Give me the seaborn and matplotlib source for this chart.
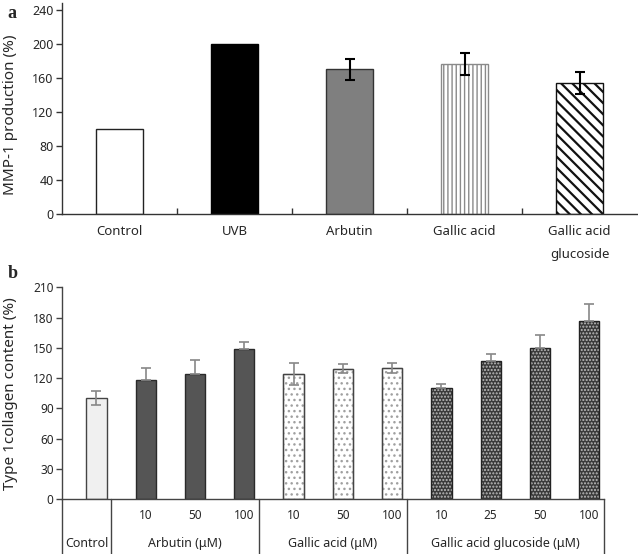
import matplotlib
matplotlib.use("Agg")
import matplotlib.pyplot as plt
from matplotlib.patches import Rectangle
import seaborn as sns
import pandas as pd

# ---- Panel a data ----
mmp_cats = ["Control", "UVB", "Arbutin", "Gallic acid", "Gallic acid\nglucoside"]
mmp_vals = [100, 200, 170, 176, 154]
mmp_err = [0, 0, 12, 13, 13]
mmp_yticks = [0, 40, 80, 120, 160, 200, 240]

# ---- Panel b data ----
col_ids = ["Control", "Arb10", "Arb50", "Arb100", "GA10", "GA50", "GA100",
           "GAG10", "GAG25", "GAG50", "GAG100"]
col_doses = ["", "10", "50", "100", "10", "50", "100", "10", "25", "50", "100"]
col_vals = [100, 118, 124, 149, 124, 129, 130, 110, 137, 150, 177]
col_err = [7, 12, 13.5, 7, 10.5, 4.5, 5.3, 4, 7.3, 13, 16.6]
group_labels = ["Control", "Arbutin (\u03bcM)", "Gallic acid (\u03bcM)",
                "Gallic acid glucoside (\u03bcM)"]
group_sizes = [1, 3, 3, 4]
col_yticks = [0, 30, 60, 90, 120, 150, 180, 210]

sns.set_style("white")
plt.rcParams["font.family"] = ["Noto Sans", "DejaVu Sans"]
plt.rcParams["hatch.linewidth"] = 1.0

fig = plt.figure(figsize=(6.38, 5.54), dpi=100)

# ================= Panel a =================
axa = fig.add_axes([62 / 638, 340 / 554, 575 / 638, 211 / 554])
dfa = pd.DataFrame({"cat": mmp_cats, "val": mmp_vals})
face_a = ["white", "black", "#7f7f7f", "white", "white"]
sns.barplot(data=dfa, x="cat", y="val", hue="cat", palette=face_a,
            legend=False, errorbar=None, width=0.41, ax=axa, saturation=1)
edge_a = ["#222222", "black", "#333333", "#8a8a8a", "#111111"]
hatch_a = [None, None, None, "||||", "\\\\\\"]
for p, ec, h in zip(axa.patches, edge_a, hatch_a):
    p.set_edgecolor(ec)
    p.set_linewidth(1.0)
    if h:
        p.set_hatch(h)
        try:
            p.set_hatch_linewidth(1.6 if h.startswith("\\") else 1.0)
        except AttributeError:
            pass
for i, (v, e) in enumerate(zip(mmp_vals, mmp_err)):
    if e > 0:
        axa.errorbar(i, v, yerr=e, color="black", lw=1.5, capsize=3.5,
                     capthick=1.5, zorder=5)
axa.set_xlim(-0.5, 4.5)
axa.set_ylim(0, 248)
axa.set_yticks(mmp_yticks)
axa.set_xlabel("")
axa.set_ylabel("MMP-1 production (%)", fontsize=11)
axa.yaxis.set_label_coords(-0.077, 0.47)
for s in ["top", "right"]:
    axa.spines[s].set_visible(False)
for s in ["left", "bottom"]:
    axa.spines[s].set_color("#333333")
    axa.spines[s].set_linewidth(1.0)
axa.tick_params(axis="y", direction="out", length=4, width=1, color="#333333",
                labelsize=9, pad=2, left=True)
axa.tick_params(axis="x", length=0, labelsize=9.5, pad=8)
axa.set_xticks(range(len(mmp_cats)))
axa.set_xticklabels(mmp_cats, linespacing=2.0, va="top")
axa.set_xticks([0.5, 1.5, 2.5, 3.5], minor=True)
axa.tick_params(axis="x", which="minor", direction="in", length=4, width=1,
                color="#333333", bottom=True)

# ================= Panel b =================
axb = fig.add_axes([62 / 638, 55 / 554, 542 / 638, 211.7 / 554])
dfb = pd.DataFrame({"id": col_ids, "val": col_vals})
face_b = ["#f0f0f0", "#555555", "#555555", "#555555", "white", "white", "white",
          "#3a3a3a", "#3a3a3a", "#3a3a3a", "#3a3a3a"]
sns.barplot(data=dfb, x="id", y="val", hue="id", palette=face_b,
            legend=False, errorbar=None, width=0.41, ax=axb, saturation=1)
dark = [False, True, True, True, False, False, False, True, True, True, True]
for i, p in enumerate(list(axb.patches)):
    if i == 0:
        p.set_edgecolor("#444444"); p.set_linewidth(1.0)
    elif 1 <= i <= 3:
        p.set_edgecolor("#2a2a2a"); p.set_linewidth(1.0)
    elif 4 <= i <= 6:
        p.set_edgecolor("#a0a0a0"); p.set_linewidth(1.0)
        p.set_hatch("...")
        axb.add_patch(Rectangle((p.get_x(), p.get_y()), p.get_width(), p.get_height(),
                                fill=False, edgecolor="#444444", lw=1.0, zorder=p.get_zorder() + 0.1))
    else:
        p.set_edgecolor("#bdbdbd"); p.set_linewidth(0)
        p.set_hatch(".....")
        axb.add_patch(Rectangle((p.get_x(), p.get_y()), p.get_width(), p.get_height(),
                                fill=False, edgecolor="#222222", lw=1.0, zorder=p.get_zorder() + 0.1))
for i, (v, e) in enumerate(zip(col_vals, col_err)):
    low = 0 if dark[i] else e
    axb.errorbar(i, v, yerr=[[low], [e]], color="#888888", lw=1.2, capsize=3.5,
                 capthick=1.2, zorder=5)

axb.set_xlim(-0.7, 10.3)
axb.set_ylim(0, 210)
axb.set_yticks(col_yticks)
axb.set_xlabel("")
axb.set_ylabel("Type 1collagen content (%)", fontsize=11)
axb.yaxis.set_label_coords(-0.081, 0.5)
for s in ["top", "right"]:
    axb.spines[s].set_visible(False)
for s in ["left", "bottom"]:
    axb.spines[s].set_color("#444444")
    axb.spines[s].set_linewidth(1.0)
axb.tick_params(axis="y", direction="out", length=4, width=1, color="#444444",
                labelsize=8.5, pad=2, left=True)
axb.set_xticks([])

trans = axb.get_xaxis_transform()
# extended left axis and group separators
line_kw = dict(color="#444444", lw=1.0, transform=trans, clip_on=False)
axb.plot([-0.7, -0.7], [0, -0.26], **line_kw)
idx = 0
bounds = []
for gs in group_sizes:
    idx += gs
    bounds.append(idx - 1 + 0.3)
for bx in bounds:
    axb.plot([bx, bx], [0, -0.26], **line_kw)
for i, d in enumerate(col_doses):
    if d:
        axb.text(i, -0.08, d, transform=trans, ha="center", va="center", fontsize=8.5)
left = -0.7
for lab, bx in zip(group_labels, bounds):
    axb.text((left + bx) / 2, -0.209, lab, transform=trans, ha="center",
             va="center", fontsize=9)
    left = bx

# panel letters
fig.text(12 / 638, 1 - 14 / 554, "a", fontsize=13, fontweight="bold",
         family="Liberation Serif", ha="center", va="center")
fig.text(13 / 638, 1 - 273 / 554, "b", fontsize=13, fontweight="bold",
         family="Liberation Serif", ha="center", va="center")

fig.savefig("out.png", dpi=100)
